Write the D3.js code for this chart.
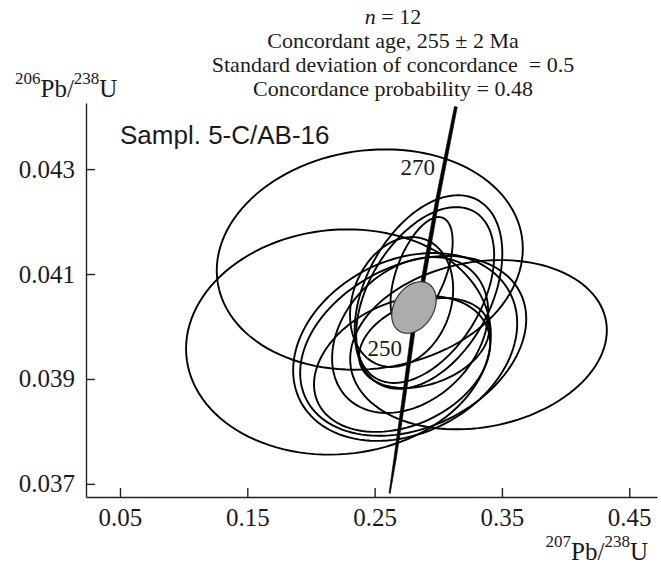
<!DOCTYPE html>
<html lang="en">
<head>
    <meta charset="UTF-8">
    <title>Concordia diagram, Sampl. 5-C/AB-16</title>
    <script src="https://d3js.org/d3.v7.min.js"></script>
    <style>
        body { margin: 0; background: #fff; }
        svg { display: block; }
        text { fill: #1a1a1a; }
    </style>
</head>
<body>
    <svg id="chart"></svg>
    <script>
        // Analyses: centre, half-size of error ellipse and error correlation
        const pb207 = [0.2462, 0.2216, 0.3316, 0.2923, 0.2897, 0.2869, 0.2712, 0.2740, 0.2803, 0.2716, 0.2889, 0.2779];
        const pb206 = [0.041276, 0.039705, 0.039653, 0.040657, 0.040600, 0.041038, 0.040467, 0.039610, 0.039630, 0.039286, 0.039686, 0.039838];
        const err207 = [0.1202, 0.1197, 0.1008, 0.0580, 0.0542, 0.0244, 0.0405, 0.0880, 0.0888, 0.0692, 0.0511, 0.0613];
        const err206 = [0.00210, 0.002147, 0.001613, 0.001845, 0.001676, 0.001048, 0.001238, 0.00179, 0.001714, 0.001295, 0.000857, 0.001486];
        const rho = [0.10, 0.06, 0.17, 0.40, 0.45, 0.55, 0.20, 0.25, 0.30, 0.30, 0.30, 0.30];

        // Concordant age ellipse
        const concordant = {x: 0.2809, y: 0.040362, sx: 0.01745, sy: 0.000491, rho: 0.3};

        // Concordia curve
        const concordiaX = [0.2618, 0.2661, 0.2728, 0.2800, 0.2879, 0.2993, 0.3138];
        const concordiaY = [0.036823, 0.037489, 0.038600, 0.039876, 0.040853, 0.042410, 0.044187];
        const ageLabels = [{age: 270, x: 0.2975, y: 0.042886}, {age: 250, x: 0.2716, y: 0.039438}];

        const xTicks = [0.05, 0.15, 0.25, 0.35, 0.45];
        const yTicks = [0.037, 0.039, 0.041, 0.043];

        const titleLines = ["Concordant age, 255 \u00b1 2 Ma", "Standard deviation of concordance \u00a0= 0.5", "Concordance probability = 0.48"];

        const width = 661, height = 567;
        const margin = {top: 103, right: 4, bottom: 70, left: 86};

        const svg = d3.select("#chart")
            .attr("width", width)
            .attr("height", height);

        const x = d3.scaleLinear()
            .domain([0.0233, 0.4718])
            .range([margin.left, width - margin.right]);
        const y = d3.scaleLinear()
            .domain([0.03675, 0.04426])
            .range([height - margin.bottom, margin.top]);

        const serif = "'Liberation Serif', 'Times New Roman', serif";

        // Ellipse outline from centre, errors and correlation
        function ellipsePoints(cx, cy, sx, sy, r) {
            const pts = [];
            const k = Math.sqrt(1 - r * r);
            for (let i = 0; i < 120; i++) {
                const t = i / 120 * 2 * Math.PI;
                pts.push([x(cx + sx * Math.cos(t)), y(cy + sy * (r * Math.cos(t) + k * Math.sin(t)))]);
            }
            return pts;
        }
        const closed = d3.line().curve(d3.curveLinearClosed);

        // Error ellipses
        svg.append("g")
            .selectAll("path")
            .data(d3.range(pb207.length))
            .enter()
            .append("path")
            .attr("d", i => closed(ellipsePoints(pb207[i], pb206[i], err207[i], err206[i], rho[i])))
            .attr("fill", "none")
            .attr("stroke", "#000")
            .attr("stroke-width", 1.9);

        // Concordia as a tapered band
        const cpts = concordiaX.map((d, i) => [x(d), y(concordiaY[i])]);
        const left = [], right = [];
        cpts.forEach((p, i) => {
            const a = cpts[Math.max(i - 1, 0)], b = cpts[Math.min(i + 1, cpts.length - 1)];
            const dx = b[0] - a[0], dy = b[1] - a[1], len = Math.hypot(dx, dy);
            const f = i / (cpts.length - 1);
            const w = 0.6 + 1.4 * Math.sin(Math.PI * Math.min(f * 1.6, 1) / 2) * (1 - Math.pow(f, 4) * 0.4);
            left.push([p[0] - dy / len * w, p[1] + dx / len * w]);
            right.push([p[0] + dy / len * w, p[1] - dx / len * w]);
        });
        svg.append("path")
            .attr("d", closed(left.concat(right.reverse())))
            .attr("fill", "#000")
            .attr("stroke", "#000")
            .attr("stroke-width", 0.6);

        // Age labels on the concordia
        ageLabels.forEach(d => {
            const t = svg.append("text")
                .attr("x", x(d.x))
                .attr("y", y(d.y))
                .attr("text-anchor", "end")
                .style("font-family", serif)
                .style("font-size", "23px")
                .text(d.age);
            const bb = t.node().getBBox();
            svg.insert("rect", "text")
                .attr("x", bb.x)
                .attr("y", bb.y + 3)
                .attr("width", bb.width)
                .attr("height", bb.height - 6)
                .attr("fill", "#fff");
        });

        // Concordant ellipse
        svg.append("path")
            .attr("d", closed(ellipsePoints(concordant.x, concordant.y, concordant.sx, concordant.sy, concordant.rho)))
            .attr("fill", "#acacac")
            .attr("stroke", "#333")
            .attr("stroke-width", 1.2);

        // Axes with inward ticks
        const xAxis = svg.append("g")
            .attr("transform", `translate(0, ${height - margin.bottom})`)
            .call(d3.axisBottom(x).tickValues(xTicks).tickFormat(d3.format(".2f"))
                .tickSizeInner(-9).tickSizeOuter(0).tickPadding(11));
        const yAxis = svg.append("g")
            .attr("transform", `translate(${margin.left}, 0)`)
            .call(d3.axisLeft(y).tickValues(yTicks).tickFormat(d3.format(".3f"))
                .tickSizeInner(-9).tickSizeOuter(0).tickPadding(11));
        [xAxis, yAxis].forEach(g => {
            g.select(".domain").attr("stroke", "#222").attr("stroke-width", 1.4);
            g.selectAll(".tick line").attr("stroke", "#222").attr("stroke-width", 1.4);
            g.selectAll(".tick text")
                .style("font-family", serif)
                .style("font-size", "25px")
                .attr("fill", "#1a1a1a");
        });

        // Axis titles with superscript isotopes
        function isotopeLabel(tx, ty, anchor, top, bottom) {
            const t = svg.append("text")
                .attr("x", tx)
                .attr("y", ty)
                .attr("text-anchor", anchor)
                .style("font-family", serif)
                .style("font-size", "25px");
            t.append("tspan").attr("dy", -13).style("font-size", "17px").text(top);
            t.append("tspan").attr("dy", 13).text("Pb/");
            t.append("tspan").attr("dy", -13).style("font-size", "17px").text(bottom);
            t.append("tspan").attr("dy", 13).text("U");
        }
        isotopeLabel(15, 97, "start", "206", "238");
        isotopeLabel(648, 560, "end", "207", "238");

        // Sample name
        svg.append("text")
            .attr("x", 120)
            .attr("y", 144)
            .style("font-family", "'Liberation Sans', Arial, sans-serif")
            .style("font-size", "26px")
            .text("Sampl. 5-C/AB-16");

        // Statistics block
        const title = svg.append("g")
            .style("font-family", serif)
            .style("font-size", "22px")
            .attr("text-anchor", "middle");
        const nLine = title.append("text").attr("x", 393).attr("y", 24);
        nLine.append("tspan").style("font-style", "italic").text("n");
        nLine.append("tspan").text(" = 12");
        title.selectAll("text.line")
            .data(titleLines)
            .enter()
            .append("text")
            .attr("class", "line")
            .attr("x", 393)
            .attr("y", (d, i) => 48 + i * 24)
            .text(d => d);
    </script>
</body>
</html>
